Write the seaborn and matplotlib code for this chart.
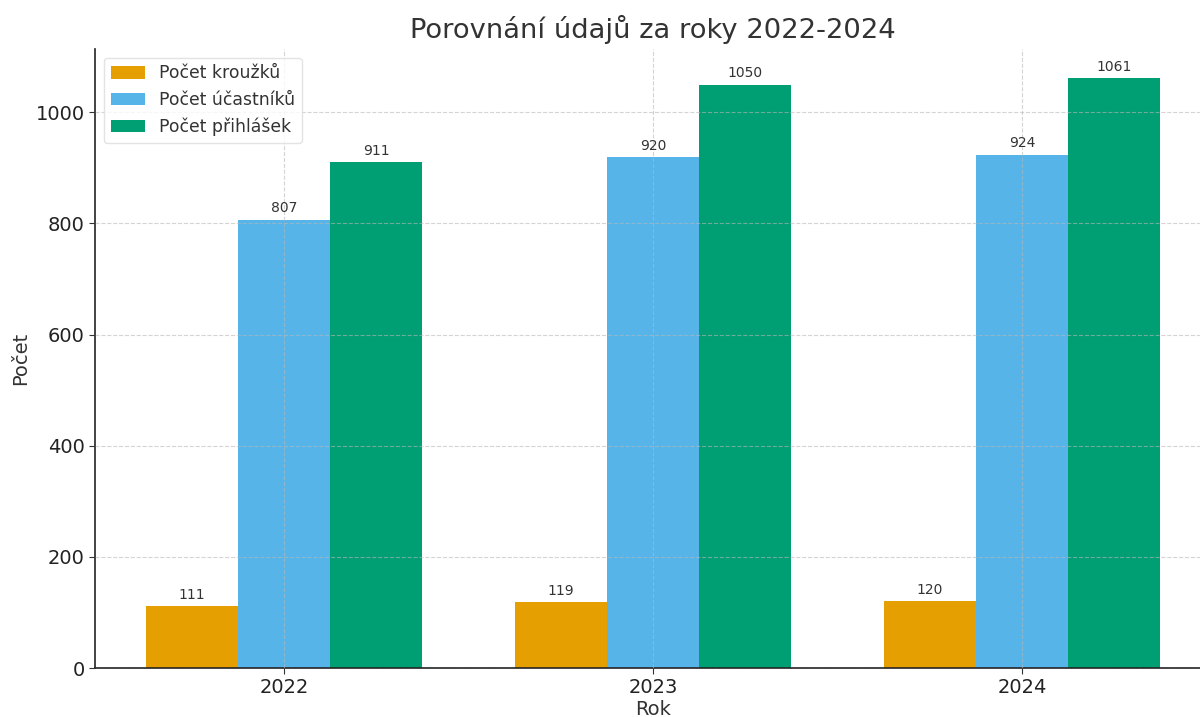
import pandas as pd
import seaborn as sns
import matplotlib.pyplot as plt

# Data
years = ["2022", "2023", "2024"]
krouzky = [111, 119, 120]
ucastnici = [807, 920, 924]
prihlasky = [911, 1050, 1061]
series_names = ["Počet kroužků", "Počet účastníků", "Počet přihlášek"]
colors = ["#E69F00", "#56B4E9", "#009E73"]

df = pd.DataFrame({
    "Rok": years * 3,
    "Počet": krouzky + ucastnici + prihlasky,
    "Řada": [n for n in series_names for _ in years],
})

sns.set_style("white")
plt.rcParams["font.family"] = ["DejaVu Sans"]

fig = plt.figure(figsize=(12, 7.17), dpi=100)
ax = fig.add_axes([95 / 1200, 49 / 717, 1116 / 1200, 619 / 717])

# Grouped bars
sns.barplot(data=df, x="Rok", y="Počet", hue="Řada", palette=colors,
            width=0.75, gap=0, saturation=1, linewidth=0, ax=ax, zorder=2)

# Value labels
for container in ax.containers:
    ax.bar_label(container, fmt="%d", padding=3, fontsize=10, color="#333333")

ax.set_xlim(-0.5125, 2.5125)
ax.set_ylim(0, 1061 * 1.05)

# Labels
ax.set_title("Porovnání údajů za roky 2022-2024", fontsize=19.7, color="#333333", pad=8)
ax.set_xlabel("Rok", fontsize=14, color="#333333", labelpad=2)
ax.set_ylabel("Počet", fontsize=14, color="#333333")
ax.tick_params(axis="both", labelsize=14, length=4, color="#333333",
               labelcolor="#222222", bottom=True, left=True)

# Grid and spines
ax.grid(True, linestyle="--", linewidth=0.8, color="#b8b8b8", alpha=0.6, zorder=3)
ax.set_axisbelow(False)
sns.despine(ax=ax)
for side in ["left", "bottom"]:
    ax.spines[side].set_color("#222222")
    ax.spines[side].set_linewidth(1.2)

leg = ax.legend(loc="upper left", fontsize=12.4, frameon=True, title=None)
leg.get_frame().set_edgecolor("#dddddd")
for t in leg.get_texts():
    t.set_color("#333333")

fig.savefig("out.png", dpi=100)
